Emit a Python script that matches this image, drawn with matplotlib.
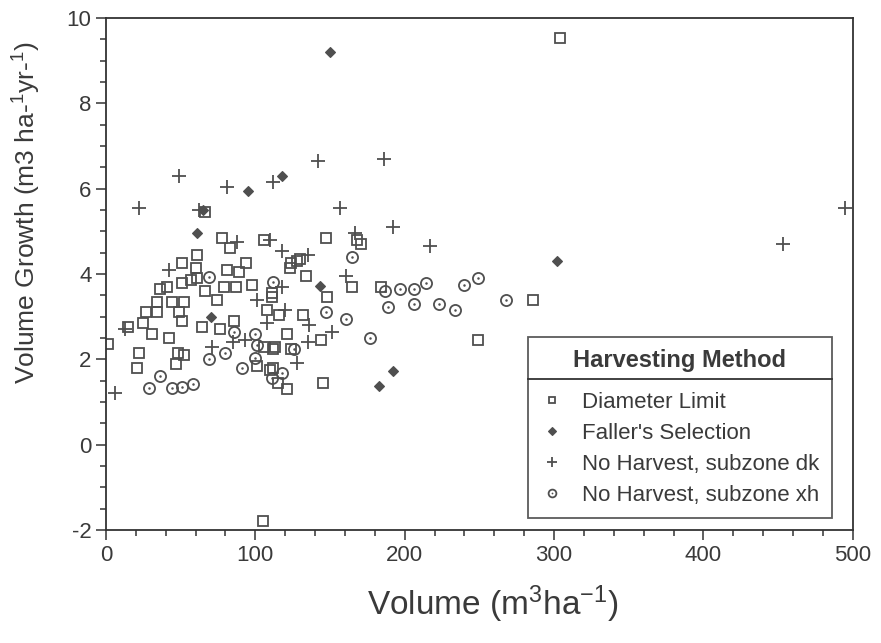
import matplotlib
matplotlib.use("Agg")
import matplotlib.pyplot as plt
from matplotlib.lines import Line2D
from matplotlib.legend_handler import HandlerTuple
from matplotlib.ticker import MultipleLocator

plt.rcParams['font.family'] = ['Liberation Sans', 'DejaVu Sans']
plt.rcParams['mathtext.fontset'] = 'custom'
plt.rcParams['mathtext.rm'] = 'Liberation Sans'
plt.rcParams['mathtext.it'] = 'Liberation Sans'
plt.rcParams['axes.unicode_minus'] = False

# --- Data ---
dl_x = [304, 105, 1.5, 15, 21, 22, 25, 27, 31, 34, 34, 36, 41, 42, 44, 47, 48, 49, 51, 51,
        51, 52, 52, 57, 60, 61, 61, 64, 66, 66, 74, 76, 78, 79, 81, 83, 86, 87, 89, 94,
        98, 101, 106, 106, 108, 110, 111, 111, 112, 112, 113, 115, 116, 121, 121, 123, 124, 124, 128, 130,
        132, 134, 144, 145, 147, 148, 165, 168, 171, 184, 249, 286]
dl_y = [9.52, -1.8, 2.35, 2.75, 1.8, 2.15, 2.85, 3.1, 2.6, 3.35, 3.1, 3.65, 3.7, 2.5, 3.35, 1.9, 2.15, 3.1, 3.8, 4.25,
        2.9, 3.35, 2.1, 3.85, 4.15, 4.45, 3.9, 2.75, 5.45, 3.6, 3.4, 2.7, 4.85, 3.7, 4.1, 4.6, 2.9, 3.7, 4.05, 4.25,
        3.75, 1.85, 4.8, 2.3, 3.15, 1.75, 3.45, 3.55, 2.25, 1.8, 2.3, 1.45, 3.05, 1.3, 2.6, 4.15, 4.25, 2.25, 4.3, 4.35,
        3.05, 3.95, 2.45, 1.45, 4.85, 3.45, 3.7, 4.8, 4.7, 3.7, 2.45, 3.4]

fs_x = [150, 95, 118, 65, 61, 143, 70, 192, 183, 302]
fs_y = [9.2, 5.95, 6.3, 5.5, 4.95, 3.72, 3.0, 1.72, 1.38, 4.3]

dk_x = [22, 6, 13, 42, 49, 62, 71, 81, 85, 88, 93, 101, 108, 110, 112, 118, 118, 120, 128, 135,
        135, 136, 142, 151, 157, 161, 167, 186, 192, 217, 453, 495]
dk_y = [5.55, 1.22, 2.72, 4.1, 6.3, 5.5, 2.3, 6.05, 2.4, 4.75, 2.45, 3.4, 2.85, 4.8, 6.15, 4.55, 3.7, 3.15, 1.92, 4.45,
        2.4, 2.8, 6.65, 2.65, 5.55, 3.95, 4.95, 6.7, 5.1, 4.65, 4.7, 5.55]

xh_x = [29, 36, 44, 51, 58, 69, 69, 80, 86, 91, 100, 100, 101, 111, 112, 118, 126, 147, 161, 165,
        177, 187, 189, 197, 206, 206, 214, 223, 234, 240, 249, 268]
xh_y = [1.33, 1.6, 1.33, 1.35, 1.43, 2.0, 3.92, 2.14, 2.64, 1.8, 2.6, 2.03, 2.33, 1.56, 3.82, 1.68, 2.25, 3.12, 2.95, 4.4,
        2.5, 3.6, 3.23, 3.65, 3.65, 3.3, 3.8, 3.3, 3.15, 3.75, 3.9, 3.4]

labels = ["Diameter Limit", "Faller's Selection",
          "No Harvest, subzone dk", "No Harvest, subzone xh"]

INK = '#4f4f4f'
TXT = '#3a3a3a'

fig = plt.figure(figsize=(8.81, 6.43), dpi=100)
ax = fig.add_axes([0.1203, 0.1757, 0.8477, 0.7963])

sq, = ax.plot(dl_x, dl_y, ls='none', marker='s', ms=7, mfc='none', mec=INK, mew=1.3)
dm, = ax.plot(fs_x, fs_y, ls='none', marker='D', ms=5.5, mfc=INK, mec=INK, mew=0.8)
pl, = ax.plot(dk_x, dk_y, ls='none', marker='+', ms=10, mec=INK, mew=1.3)
ci, = ax.plot(xh_x, xh_y, ls='none', marker='o', ms=8, mfc='none', mec=INK, mew=1.3)
cd, = ax.plot(xh_x, xh_y, ls='none', marker='o', ms=1.8, mfc=INK, mec=INK, mew=0)

ax.set_xlim(0, 500)
ax.set_ylim(-2, 10)
ax.xaxis.set_major_locator(MultipleLocator(100))
ax.xaxis.set_minor_locator(MultipleLocator(20))
ax.yaxis.set_major_locator(MultipleLocator(2))
ax.yaxis.set_minor_locator(MultipleLocator(0.5))
ax.tick_params(which='both', direction='out', colors='#333333', labelcolor=TXT,
               labelsize=16, width=1.1, top=False, right=False)
ax.tick_params(which='major', length=7)
ax.tick_params(which='minor', length=4)
for s in ax.spines.values():
    s.set_color('#333333')
    s.set_linewidth(1.3)

ax.set_xlabel('Volume (m$^{3}$ha$^{-1}$)', fontsize=24, color=TXT)
ax.xaxis.set_label_coords(0.518, -0.105)
ax.set_ylabel('Volume Growth (m3 ha-$^{1}$yr-$^{1}$)', fontsize=19, color=TXT)
ax.yaxis.set_label_coords(-0.085, 0.62)

leg = ax.legend([sq, dm, pl, (ci, cd)], labels,
                handler_map={tuple: HandlerTuple(ndivide=1)},
                title='Harvesting Method', loc='upper left',
                bbox_to_anchor=(0.565, 0.377), borderaxespad=0,
                fontsize=16, title_fontproperties={'weight': 'bold', 'size': 17},
                frameon=True, fancybox=False, edgecolor='#333333',
                markerscale=0.7, handlelength=1.1, handletextpad=0.8,
                labelspacing=0.45, borderpad=0.55)
leg.get_frame().set_linewidth(1.3)
leg.get_title().set_color(TXT)
leg._legend_box.sep = 14
for t in leg.get_texts():
    t.set_color(TXT)

# separator line beneath the legend title
fig.canvas.draw()
r = fig.canvas.get_renderer()
fb = leg.get_frame().get_window_extent(r)
tb = leg.get_title().get_window_extent(r)
inv = fig.transFigure.inverted()
(x0, y0) = inv.transform((fb.x0, tb.y0 - 7))
(x1, _) = inv.transform((fb.x1, tb.y0 - 7))
fig.add_artist(Line2D([x0, x1], [y0, y0], color='#333333', lw=1.3))

fig.savefig('out.png', dpi=100)
